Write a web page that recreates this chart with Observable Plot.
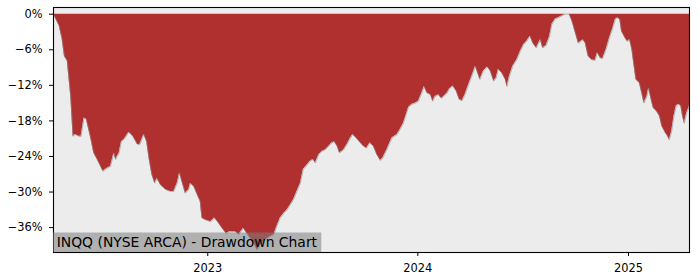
<!DOCTYPE html>
<html>
<head>
<meta charset="utf-8">
<script src="https://cdn.jsdelivr.net/npm/d3@7"></script>
<script src="https://cdn.jsdelivr.net/npm/@observablehq/plot@0.6"></script>
<style>
  html, body { margin: 0; padding: 0; background: white; }
  #chart svg { display: block; }
</style>
</head>
<body>
<div id="chart"></div>
<script>
const title = "INQQ (NYSE ARCA) - Drawdown Chart";
const yTicks = [0, -6, -12, -18, -24, -30, -36];
const xTickLabels = ["2023", "2024", "2025"];

const dates = [
"2022-04-08","2022-04-14","2022-04-18","2022-04-23","2022-04-27","2022-05-02","2022-05-04","2022-05-08","2022-05-12","2022-05-16",
"2022-05-22","2022-05-26","2022-05-31","2022-06-04","2022-06-11","2022-06-17","2022-06-23","2022-06-29","2022-07-03","2022-07-10",
"2022-07-16","2022-07-22","2022-07-25","2022-07-31","2022-08-04","2022-08-09","2022-08-17","2022-08-24","2022-09-01","2022-09-05",
"2022-09-12","2022-09-17","2022-09-21","2022-09-26","2022-10-01","2022-10-05","2022-10-11","2022-10-20","2022-10-28","2022-11-03",
"2022-11-09","2022-11-13","2022-11-18","2022-11-23","2022-11-29","2022-12-02","2022-12-08","2022-12-14","2022-12-19","2022-12-22",
"2022-12-28","2023-01-06","2023-01-13","2023-01-18","2023-01-26","2023-02-02","2023-02-08","2023-02-18","2023-02-24","2023-03-04",
"2023-03-10","2023-03-16","2023-03-22","2023-03-28","2023-04-02","2023-04-08","2023-04-14","2023-04-20","2023-04-26","2023-05-01",
"2023-05-07","2023-05-13","2023-05-19","2023-05-25","2023-05-30","2023-06-05","2023-06-11","2023-06-16","2023-06-23","2023-06-28",
"2023-07-03","2023-07-07","2023-07-13","2023-07-19","2023-07-24","2023-07-30","2023-08-05","2023-08-09","2023-08-14","2023-08-18",
"2023-08-25","2023-08-31","2023-09-06","2023-09-10","2023-09-16","2023-09-23","2023-09-29","2023-10-04","2023-10-10","2023-10-16",
"2023-10-22","2023-10-28","2023-11-01","2023-11-08","2023-11-17","2023-11-26","2023-12-01","2023-12-07","2023-12-12","2023-12-16",
"2023-12-22","2023-12-28","2024-01-02","2024-01-08","2024-01-12","2024-01-17","2024-01-23","2024-01-27","2024-01-31","2024-02-06",
"2024-02-11","2024-02-15","2024-02-21","2024-02-25","2024-03-02","2024-03-08","2024-03-13","2024-03-18","2024-03-23","2024-03-27",
"2024-04-01","2024-04-06","2024-04-10","2024-04-14","2024-04-18","2024-04-24","2024-05-01","2024-05-06","2024-05-12","2024-05-16",
"2024-05-20","2024-05-26","2024-06-01","2024-06-04","2024-06-08","2024-06-14","2024-06-21","2024-06-27","2024-07-03","2024-07-08",
"2024-07-14","2024-07-19","2024-07-25","2024-08-01","2024-08-05","2024-08-11","2024-08-17","2024-08-21","2024-08-27","2024-09-01",
"2024-09-07","2024-09-13","2024-09-20","2024-09-25","2024-09-30","2024-10-06","2024-10-14","2024-10-18","2024-10-23","2024-10-29",
"2024-11-04","2024-11-08","2024-11-13","2024-11-17","2024-11-23","2024-11-29","2024-12-05","2024-12-09","2024-12-13","2024-12-17",
"2024-12-20","2024-12-26","2024-12-30","2025-01-03","2025-01-07","2025-01-10","2025-01-14","2025-01-20","2025-01-24","2025-01-28",
"2025-02-02","2025-02-05","2025-02-09","2025-02-13","2025-02-19","2025-02-24","2025-02-28","2025-03-06","2025-03-10","2025-03-13",
"2025-03-17","2025-03-21","2025-03-25","2025-03-29","2025-04-02","2025-04-05","2025-04-08","2025-04-12","2025-04-17"
];

const drawdown = [
0,-1.2,-2.0,-4.2,-7.1,-7.9,-9.9,-13.9,-20.6,-20.3,
-20.6,-20.6,-17.5,-17.7,-20.6,-23.4,-24.5,-25.7,-26.5,-26.0,
-25.7,-23.4,-24.5,-23.4,-21.5,-21.1,-19.9,-20.6,-22.0,-22.0,
-20.3,-21.5,-24.3,-27.1,-28.5,-27.7,-28.8,-29.6,-29.9,-29.9,
-28.5,-26.8,-28.5,-30.2,-29.6,-28.5,-29.1,-30.5,-31.6,-34.4,
-34.7,-35.0,-34.4,-35.0,-36.1,-37.0,-36.7,-36.7,-37.2,-36.1,
-37.0,-37.8,-38.6,-39.8,-39.0,-38.4,-37.9,-37.5,-37.2,-35.8,
-34.4,-33.6,-33.0,-32.1,-31.3,-29.9,-28.5,-26.2,-25.4,-24.8,
-24.5,-25.1,-23.7,-23.1,-22.9,-22.3,-21.7,-21.5,-22.3,-23.4,
-22.9,-22.0,-20.9,-20.3,-20.9,-21.7,-22.3,-22.6,-21.7,-22.3,
-23.7,-24.7,-24.3,-22.9,-20.9,-20.3,-19.5,-18.4,-16.9,-15.7,
-15.2,-15.0,-14.7,-13.3,-12.2,-13.3,-13.6,-14.7,-13.9,-13.6,
-14.2,-13.9,-13.3,-12.6,-12.1,-13.0,-14.4,-14.6,-13.6,-12.5,
-11.2,-9.9,-8.8,-9.9,-11.0,-9.6,-8.9,-9.6,-11.3,-10.8,
-9.3,-9.9,-11.0,-12.2,-10.5,-8.8,-7.7,-6.3,-5.1,-4.6,
-3.7,-4.9,-5.7,-4.3,-5.7,-5.3,-3.7,-1.7,-0.8,-0.6,
-0.3,0,0,-1.2,-2.9,-4.9,-4.3,-4.9,-7.1,-7.7,
-7.8,-6.5,-7.4,-7.5,-6.0,-4.0,-2.3,-0.9,-0.6,-0.9,
-2.9,-4.0,-4.6,-4.3,-6.0,-8.2,-11.0,-11.6,-13.3,-15.0,
-13.9,-12.5,-14.2,-15.8,-16.4,-17.2,-18.9,-20.0,-20.6,-21.2,
-19.8,-17.2,-15.5,-15.2,-15.5,-17.2,-18.4,-16.7,-15.5
];

const data = dates.map((d, i) => ({date: new Date(d + "T00:00:00Z"), dd: drawdown[i]}));
const xTicks = xTickLabels.map(y => new Date(y + "-01-01T00:00:00Z"));
const fmtPct = d => d === 0 ? "0%" : "\u2212" + Math.abs(d) + "%";

const chart = Plot.plot({
  width: 700,
  height: 280,
  marginLeft: 53,
  marginRight: 11,
  marginTop: 7,
  marginBottom: 28,
  style: {fontFamily: "DejaVu Sans", fontSize: "11.4px", background: "white", color: "black"},
  x: {type: "utc", domain: [data[0].date, data[data.length - 1].date]},
  y: {domain: [-40.2, 1.13]},
  marks: [
    Plot.frame({fill: "#ececec"}),
    Plot.areaY(data, {x: "date", y1: 0, y2: "dd", fill: "#b03030"}),
    Plot.lineY(data, {x: "date", y: "dd", stroke: "#8c8c8c", strokeWidth: 0.6}),
    Plot.axisY({ticks: yTicks, tickFormat: fmtPct, tickSize: 4, tickPadding: 7, label: null}),
    Plot.axisX({ticks: xTicks, tickFormat: d3.utcFormat("%Y"), tickSize: 4, tickPadding: 7, label: null}),
    Plot.frame({stroke: "black", strokeWidth: 1.1})
  ]
});
document.getElementById("chart").appendChild(chart);

// label box in the bottom-left corner of the plot area
const xr = chart.scale("x").range;
const yr = chart.scale("y").range;
const left = Math.min(...xr), bottom = Math.max(...yr);
const svg = d3.select(chart);
const g = svg.append("g").attr("text-anchor", "start");
const rect = g.append("rect");
const txt = g.append("text")
  .attr("x", left + 3.7)
  .attr("y", bottom - 5.5)
  .attr("text-anchor", "start")
  .attr("fill", "black")
  .style("font-family", "DejaVu Sans")
  .style("font-size", "13.9px")
  .text(title);
const bb = txt.node().getBBox();
rect.attr("x", left)
  .attr("y", bottom - 19.5)
  .attr("width", bb.x + bb.width + 3.7 - left)
  .attr("height", 19.5)
  .attr("fill", "gray")
  .attr("fill-opacity", 0.55);
</script>
</body>
</html>
